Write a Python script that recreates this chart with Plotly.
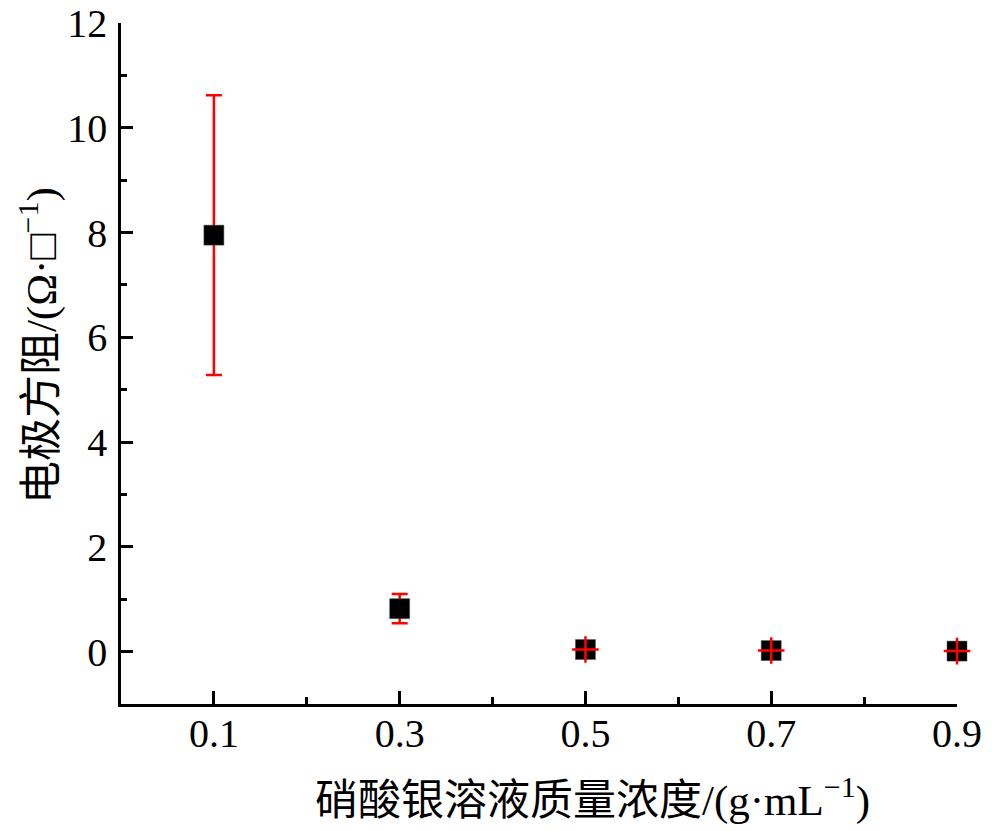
import plotly.graph_objects as go

# Data
conc = [0.1, 0.3, 0.5, 0.7, 0.9]
resistance = [7.95, 0.82, 0.04, 0.02, 0.01]
err = [2.67, 0.28, 0.0, 0.0, 0.0]
x_ticks = [0.1, 0.3, 0.5, 0.7, 0.9]
x_ticklabels = ["0.1", "0.3", "0.5", "0.7", "0.9"]
y_ticks = [0, 2, 4, 6, 8, 10, 12]
x_title = "硝酸银溶液质量浓度/(g·mL<sup>−1</sup>)"
y_title = "电极方阻/(Ω·□<sup>−1</sup>)"

small_idx = [i for i, e in enumerate(err) if e < 0.05]

FONT = "Liberation Serif, 'Times New Roman', 'Noto Sans CJK SC', serif"

fig = go.Figure()
fig.add_trace(go.Scatter(
    x=conc, y=resistance, mode="markers", cliponaxis=False,
    marker=dict(symbol="square", size=20, color="black",
                line=dict(color="#555555", width=0.5)),
    error_y=dict(type="data", array=err, visible=True,
                 color="#ff0000", thickness=2.5, width=8),
    showlegend=False,
))
fig.add_trace(go.Scatter(
    x=[conc[i] for i in small_idx], y=[resistance[i] for i in small_idx],
    mode="markers", cliponaxis=False,
    marker=dict(symbol="cross-thin", size=19, color="#ff0000",
                line=dict(color="#ff0000", width=2.5)),
    showlegend=False, hoverinfo="skip",
))

fig.update_layout(
    width=1000, height=831,
    margin=dict(l=113, r=51, t=15, b=135),
    paper_bgcolor="white", plot_bgcolor="white",
    font=dict(family=FONT, size=40, color="black"),
)
fig.update_xaxes(
    range=[0.0, 0.9], showgrid=False, zeroline=False, automargin=False,
    showline=True, linecolor="black", linewidth=2.5,
    tickmode="array", tickvals=x_ticks, ticktext=x_ticklabels,
    ticks="inside", ticklen=13, tickwidth=2.5, tickcolor="black",
    minor=dict(ticks="inside", ticklen=7, tickwidth=2.5, tickcolor="black",
               tickvals=[0.2, 0.4, 0.6, 0.8]),
    tickfont=dict(family=FONT, size=40),
    ticklabelstandoff=-8, ticklabeloverflow="allow",
)
fig.update_yaxes(
    range=[-1, 12], showgrid=False, zeroline=False, automargin=False,
    showline=True, linecolor="black", linewidth=2.5,
    tickmode="array", tickvals=y_ticks,
    ticks="inside", ticklen=12, tickwidth=2.5, tickcolor="black",
    minor=dict(ticks="inside", ticklen=6, tickwidth=2.5, tickcolor="black",
               tickvals=[-1, 1, 3, 5, 7, 9, 11]),
    tickfont=dict(family=FONT, size=40),
    ticklabelstandoff=3, ticklabeloverflow="allow",
)

fig.add_annotation(
    text=x_title, xref="paper", yref="paper", x=0.5634, y=0,
    xanchor="center", yanchor="middle", yshift=-93, showarrow=False,
    font=dict(family=FONT, size=43, color="black"),
)
fig.add_annotation(
    text=y_title, xref="paper", yref="paper", x=-0.0993, y=0.527,
    xanchor="center", yanchor="middle", textangle=-90, showarrow=False,
    font=dict(family=FONT, size=43, color="black"),
)

fig.write_html("out.html")
